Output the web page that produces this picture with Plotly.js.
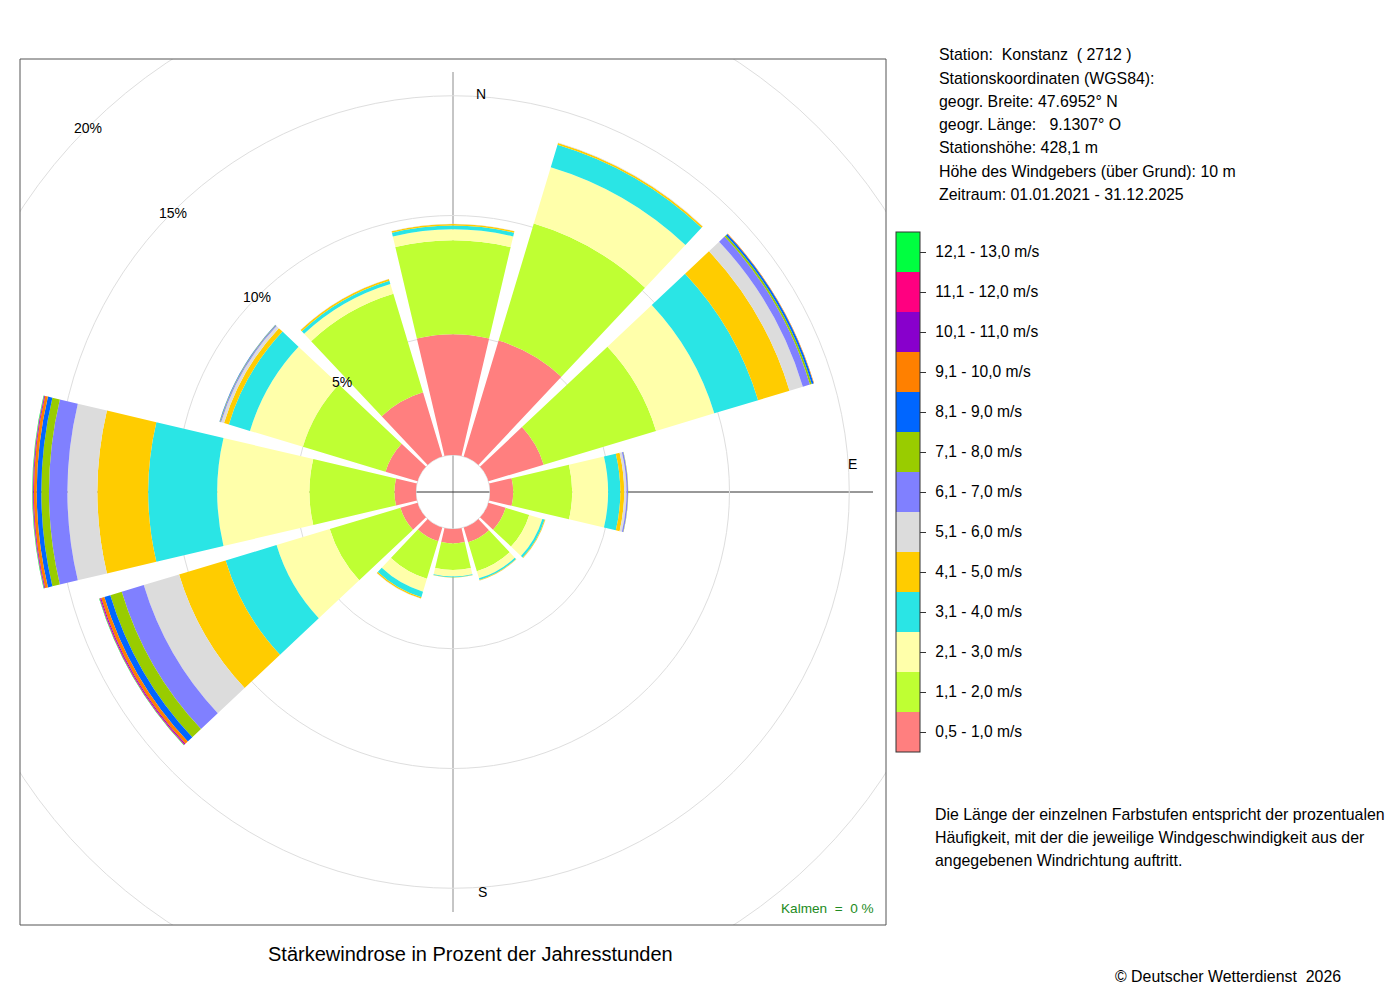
<!DOCTYPE html>
<html><head><meta charset="utf-8">
<script src="https://cdn.plot.ly/plotly-3.0.1.min.js"></script>
<style>
html,body{margin:0;padding:0;overflow:hidden;background:#fff;width:1400px;height:1000px}
#chart{position:absolute;left:-100px;top:-60px;width:1600px;height:1120px}
</style>
</head><body><div id="chart"></div>
<script>
// ---- data (percent of annual hours) ----
const directions = [0, 30, 60, 90, 120, 150, 180, 210, 240, 270, 300, 330];
const speedClasses = ['0,5 - 1,0 m/s','1,1 - 2,0 m/s','2,1 - 3,0 m/s','3,1 - 4,0 m/s','4,1 - 5,0 m/s',
  '5,1 - 6,0 m/s','6,1 - 7,0 m/s','7,1 - 8,0 m/s','8,1 - 9,0 m/s','9,1 - 10,0 m/s',
  '10,1 - 11,0 m/s','11,1 - 12,0 m/s','12,1 - 13,0 m/s'];
const classColors = ['#FF7F7F','#BFFF33','#FFFFAA','#2AE5E5','#FFCC00','#DCDCDC','#8080FF',
  '#99CC00','#0066FF','#FF8000','#8800CC','#FF0080','#00FF40'];
const v05_10  = [5.04,5.06,2.41,0.97,0.75,0.65,0.60,0.60,0.75,0.90,1.40,2.80];
const v11_20  = [3.92,5.10,4.90,2.46,1.03,1.26,1.11,1.64,3.08,3.55,3.60,4.30];
const v21_30  = [0.46,2.46,2.54,1.50,0.57,0.31,0.27,0.56,2.32,3.85,2.31,0.43];
const v31_40  = [0.16,0.98,1.91,0.51,0.10,0.07,0.04,0.24,2.22,2.88,0.92,0.14];
const v41_50  = [0.06,0.07,1.37,0.16,0.03,0.02,0.01,0.06,2.03,2.12,0.21,0.07];
const v51_60  = [0.01,0.02,0.58,0.10,0.01,0.01,0.00,0.01,1.54,1.25,0.13,0.01];
const v61_70  = [0,0,0.31,0.06,0,0,0,0,0.96,0.77,0.04,0];
const v71_80  = [0,0,0.08,0.01,0,0,0,0,0.50,0.32,0.02,0];
const v81_90  = [0,0,0.08,0,0,0,0,0,0.26,0.19,0.01,0];
const v91_100 = [0,0,0.02,0,0,0,0,0,0.14,0.12,0,0];
const v101_110 = [0,0,0,0,0,0,0,0,0.04,0.03,0,0];
const v111_120 = [0,0,0,0,0,0,0,0,0.03,0.02,0,0];
const v121_130 = [0,0,0,0,0,0,0,0,0.02,0.02,0,0];
const classValues = [v05_10,v11_20,v21_30,v31_40,v41_50,v51_60,v61_70,v71_80,v81_90,v91_100,v101_110,v111_120,v121_130];
const ringTicks = [5, 10, 15, 20];

const infoLines = ['Station:\u00A0 Konstanz \u00A0( 2712 )','Stationskoordinaten (WGS84):',
  'geogr. Breite: 47.6952° N','geogr. Länge: \u00A0 9.1307° O','Stationshöhe: 428,1 m',
  'Höhe des Windgebers (über Grund): 10 m','Zeitraum: 01.01.2021 - 31.12.2025'];
const noteLines = ['Die Länge der einzelnen Farbstufen entspricht der prozentualen',
  'Häufigkeit, mit der die jeweilige Windgeschwindigkeit aus der','angegebenen Windrichtung auftritt.'];

// ---- geometry helpers (page pixel -> paper) ----
const OX = 100, OY = 60, W = 1600, H = 1120;
const px = x => (x + OX) / W;
const py = y => 1 - (y + OY) / H;
const CX = 453, CY = 492, HOLE = 37, PXPCT = 23.95, RMAX = 20.5;
const R = HOLE + PXPCT * RMAX;
const FONT = 'Liberation Sans, Arial, Helvetica, sans-serif';

const nC = classColors.length;
const colorscale = [];
classColors.forEach((c, i) => { colorscale.push([i / nC, c]); colorscale.push([(i + 1) / nC, c]); });

const traces = classValues.map((vals, i) => ({
  type: 'barpolar',
  r: vals,
  theta: directions,
  width: 26.5,
  name: speedClasses[i],
  hoverinfo: 'skip',
  marker: {
    color: directions.map(() => i + 0.5),
    colorscale: colorscale, cmin: 0, cmax: nC,
    line: {width: 0},
    showscale: i === 0,
    colorbar: {
      thickness: 24, thicknessmode: 'pixels',
      len: 520, lenmode: 'pixels',
      x: px(896), xanchor: 'left', xpad: 0,
      y: py(492), yanchor: 'middle', ypad: 0,
      outlinewidth: 1, outlinecolor: '#333',
      tickmode: 'array',
      tickvals: speedClasses.map((_, k) => k + 0.5),
      ticktext: speedClasses.map(t => '\u2009\u2009' + t),
      ticks: 'outside', ticklen: 6, tickcolor: '#333', tickwidth: 1,
      tickfont: {family: FONT, size: 15.6, color: '#000'},
      borderwidth: 0, bgcolor: 'rgba(0,0,0,0)'
    }
  }
}));

const ann = (x, y, text, opts) => Object.assign({
  xref: 'paper', yref: 'paper', x: px(x), y: py(y), text: text, showarrow: false,
  xanchor: 'left', yanchor: 'middle', font: {family: FONT, size: 15.9, color: '#000'}
}, opts || {});

const annotations = [];
infoLines.forEach((t, i) => annotations.push(ann(937, 55 + i * 23.2, t)));
noteLines.forEach((t, i) => annotations.push(ann(933, 814 + i * 23, t)));
annotations.push(ann(470, 954, 'Stärkewindrose in Prozent der Jahresstunden', {xanchor: 'center', font: {family: FONT, size: 20, color: '#000'}}));
annotations.push(ann(1343, 976, '© Deutscher Wetterdienst\u00A0 2026', {xanchor: 'right'}));
annotations.push(ann(876, 908, 'Kalmen \u00A0= \u00A00 %', {xanchor: 'right', font: {family: FONT, size: 13.6, color: '#228B22'}}));
// compass letters
annotations.push(ann(481, 94, 'N', {xanchor: 'center', font: {family: FONT, size: 14, color: '#000'}}));
annotations.push(ann(852, 464, 'E', {xanchor: 'center', font: {family: FONT, size: 14, color: '#000'}}));
annotations.push(ann(482, 892, 'S', {xanchor: 'center', font: {family: FONT, size: 14, color: '#000'}}));
// ring labels along 135° (upper-left)
ringTicks.forEach(v => {
  const rr = HOLE + PXPCT * v;
  annotations.push(ann(CX - rr * Math.SQRT1_2, CY - rr * Math.SQRT1_2 + 1, v + '%',
    {xanchor: 'center', font: {family: FONT, size: 14, color: '#000'}}));
});

const shapes = [
  {type: 'line', xref: 'paper', yref: 'paper', x0: px(CX), x1: px(CX), y0: py(CY - 420), y1: py(CY + 420), line: {color: '#8c8c8c', width: 1}, layer: 'below'},
  {type: 'line', xref: 'paper', yref: 'paper', x0: px(CX - 420), x1: px(CX + 420), y0: py(CY), y1: py(CY), line: {color: '#333', width: 1}, layer: 'below'},
  {type: 'circle', xref: 'paper', yref: 'paper', x0: px(CX - HOLE), x1: px(CX + HOLE), y0: py(CY + HOLE), y1: py(CY - HOLE), line: {color: '#dedede', width: 1}, layer: 'below'},
  // white masks outside the plot frame
  {type: 'rect', xref: 'paper', yref: 'paper', x0: 0, x1: px(20), y0: 0, y1: 1, fillcolor: '#fff', line: {width: 0}, layer: 'above'},
  {type: 'rect', xref: 'paper', yref: 'paper', x0: px(886), x1: 1, y0: 0, y1: 1, fillcolor: '#fff', line: {width: 0}, layer: 'above'},
  {type: 'rect', xref: 'paper', yref: 'paper', x0: px(20), x1: px(886), y0: py(59), y1: 1, fillcolor: '#fff', line: {width: 0}, layer: 'above'},
  {type: 'rect', xref: 'paper', yref: 'paper', x0: px(20), x1: px(886), y0: 0, y1: py(925), fillcolor: '#fff', line: {width: 0}, layer: 'above'},
  {type: 'rect', xref: 'paper', yref: 'paper', x0: px(20), x1: px(886), y0: py(925), y1: py(59), line: {color: '#555', width: 1}, layer: 'above'}
];

const layout = {
  width: W, height: H,
  margin: {l: 0, r: 0, t: 0, b: 0, pad: 0},
  paper_bgcolor: '#fff',
  showlegend: false,
  font: {family: FONT, color: '#000'},
  polar: {
    domain: {x: [px(CX - R), px(CX + R)], y: [py(CY + R), py(CY - R)]},
    hole: HOLE / R,
    bgcolor: 'rgba(0,0,0,0)',
    barmode: 'stack',
    radialaxis: {range: [0, RMAX], tickmode: 'array', tickvals: [0].concat(ringTicks), showticklabels: false,
      ticks: '', showline: false, gridcolor: '#dedede', gridwidth: 1, layer: 'below traces'},
    angularaxis: {rotation: 90, direction: 'clockwise', showgrid: false, showline: false,
      showticklabels: false, ticks: '', layer: 'below traces'}
  },
  shapes: shapes,
  annotations: annotations
};

Plotly.newPlot('chart', traces, layout, {displayModeBar: false, staticPlot: true});
</script>
</body></html>
